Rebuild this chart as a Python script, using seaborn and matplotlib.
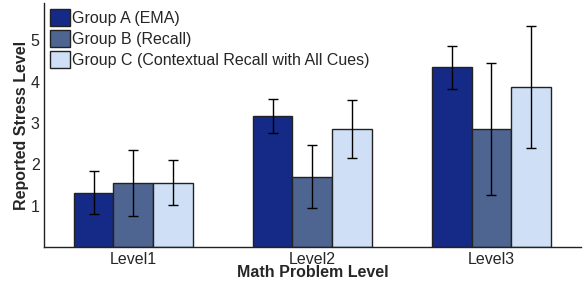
import numpy as np
import pandas as pd
import seaborn as sns
import matplotlib.pyplot as plt

levels = ["Level1", "Level2", "Level3"]
groups = ["Group A (EMA)", "Group B (Recall)", "Group C (Contextual Recall with All Cues)"]
means_a = [1.32, 3.17, 4.35]
means_b = [1.56, 1.71, 2.86]
means_c = [1.56, 2.86, 3.87]
err_a = [0.52, 0.42, 0.52]
err_b = [0.80, 0.77, 1.60]
err_c = [0.54, 0.70, 1.48]
colors = ["#152a86", "#4f6591", "#cfe0f6"]

rows = []
for g, m, e in zip(groups, [means_a, means_b, means_c], [err_a, err_b, err_c]):
    for lv, v, s in zip(levels, m, e):
        rows.append({"Level": lv, "Group": g, "Stress": v, "Err": s})
df = pd.DataFrame(rows)

sns.set_style("white")
plt.rcParams["font.family"] = ["Liberation Sans", "DejaVu Sans"]

fig = plt.figure(figsize=(5.85, 2.86), dpi=100)
ax = fig.add_axes([0.075, 0.135, 0.918, 0.855])

sns.barplot(data=df, x="Level", y="Stress", hue="Group", palette=colors,
            errorbar=None, width=0.667, edgecolor="#222222", linewidth=1.0,
            saturation=1, ax=ax)

# error bars at the centres of the drawn bars
for cont, g in zip(ax.containers, groups):
    sub = df[df["Group"] == g]
    xs = [p.get_x() + p.get_width() / 2 for p in cont.patches]
    ax.errorbar(xs, sub["Stress"], yerr=sub["Err"], fmt="none",
                ecolor="black", elinewidth=1.0, capsize=3.5, capthick=1.0)

ax.set_xlim(-0.5, 2.5)
ax.set_ylim(0, 5.9)
ax.set_yticks([1, 2, 3, 4, 5])
ax.tick_params(axis="both", labelsize=11.5, length=2, direction="in", pad=3)
ax.set_xlabel("Math Problem Level", fontsize=11.5, fontweight="bold", labelpad=-1)
ax.set_ylabel("Reported Stress Level", fontsize=11.5, fontweight="bold", labelpad=1)
for s in ["top", "right"]:
    ax.spines[s].set_visible(False)
for s in ["left", "bottom"]:
    ax.spines[s].set_color("#222222")
    ax.spines[s].set_linewidth(1.0)

ax.legend(loc="upper left", frameon=False, fontsize=11.5, handlelength=1.25,
          handleheight=1.25, handletextpad=0.1, labelspacing=0.25,
          borderaxespad=0.0, bbox_to_anchor=(0.0, 1.0))

fig.savefig("out.png", dpi=100)
